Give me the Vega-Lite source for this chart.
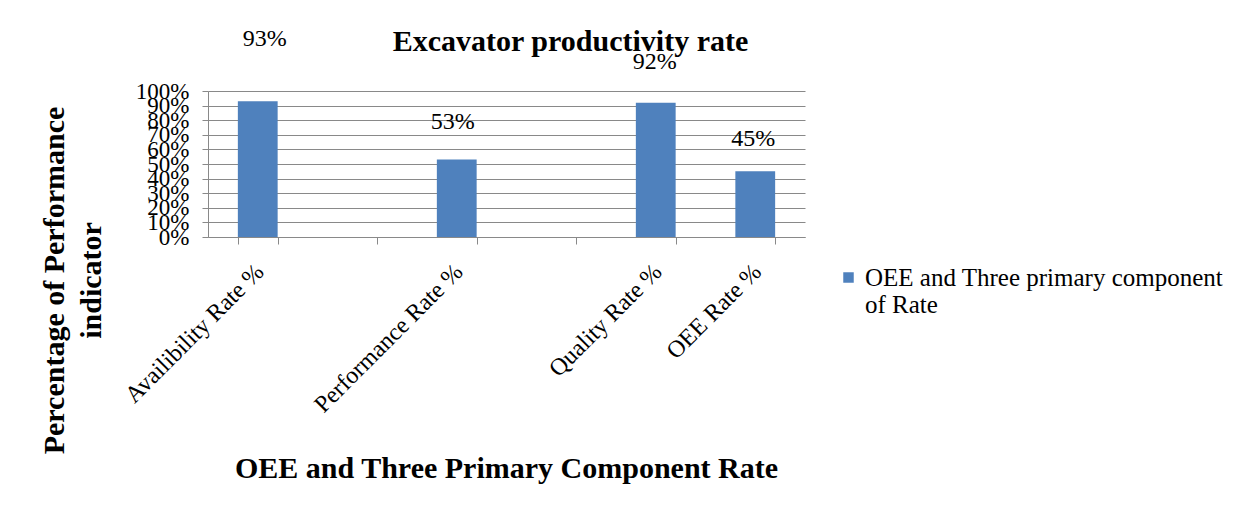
{
  "$schema": "https://vega.github.io/schema/vega-lite/v6.json",
  "autosize": {"type": "none"},
  "width": 597,
  "height": 146,
  "padding": {"left": 208, "top": 91, "right": 444, "bottom": 274},
  "background": "white",
  "title": {
    "text": "Excavator productivity rate",
    "font": "Liberation Serif",
    "fontSize": 30,
    "fontWeight": "bold",
    "color": "black",
    "anchor": "middle",
    "frame": "group",
    "dx": 64,
    "dy": 54,
    "baseline": "alphabetic",
    "offset": 0
  },
  "data": {
    "values": [
      {"category": "Availibility Rate %", "value": 0.93, "series": "OEE and Three primary component of Rate"},
      {"category": "Performance Rate %", "value": 0.53, "series": "OEE and Three primary component of Rate"},
      {"category": "Quality Rate %", "value": 0.92, "series": "OEE and Three primary component of Rate"},
      {"category": "OEE Rate %", "value": 0.45, "series": "OEE and Three primary component of Rate"}
    ]
  },
  "encoding": {
    "x": {
      "field": "category",
      "type": "nominal",
      "sort": null,
      "title": "OEE and Three Primary Component Rate",
      "scale": {
        "domain": ["Availibility Rate %", "", "Performance Rate %", " ", "Quality Rate %", "OEE Rate %"],
        "paddingInner": 0.6,
        "paddingOuter": 0.3
      },
      "axis": {
        "labelAngle": -45,
        "labelAlign": "right",
        "labelBaseline": "middle",
        "labelFont": "Liberation Serif",
        "labelFontSize": 24,
        "labelColor": "black",
        "labelPadding": 24,
        "labelOffset": 2,
        "labelLimit": 400,
        "tickBand": "extent",
        "tickSize": 7,
        "tickColor": "#898989",
        "domainColor": "#898989",
        "grid": false,
        "titleFont": "Liberation Serif",
        "titleFontSize": 30,
        "titleFontWeight": "bold",
        "titleColor": "black",
        "titleX": 298,
        "titleY": 240,
        "titleBaseline": "alphabetic",
        "titleAlign": "center"
      }
    },
    "y": {
      "field": "value",
      "type": "quantitative",
      "scale": {"domain": [0, 1]},
      "title": ["Percentage of  Performance", "indicator"],
      "axis": {
        "values": [0, 0.1, 0.2, 0.3, 0.4, 0.5, 0.6, 0.7, 0.8, 0.9, 1],
        "format": ".0%",
        "labelOverlap": false,
        "labelFont": "Liberation Serif",
        "labelFontSize": 23,
        "labelColor": "black",
        "labelPadding": 13,
        "labelFlush": false,
        "tickSize": 6,
        "tickColor": "#898989",
        "domainColor": "#898989",
        "grid": true,
        "gridColor": "#898989",
        "titleFont": "Liberation Serif",
        "titleFontSize": 30,
        "titleFontWeight": "bold",
        "titleColor": "black",
        "titleLineHeight": 37,
        "titleX": -154,
        "titleY": 189,
        "titleBaseline": "middle",
        "titleAlign": "center",
        "titleAngle": -90
      }
    }
  },
  "layer": [
    {
      "mark": {"type": "bar"},
      "encoding": {
        "color": {
          "field": "series",
          "type": "nominal",
          "scale": {"range": ["#4F81BD"]},
          "legend": {
            "title": null,
            "orient": "none",
            "legendX": 628,
            "legendY": 174,
            "symbolType": "square",
            "symbolSize": 110,
            "symbolStrokeWidth": 0,
            "labelOffset": 4,
            "labelFont": "Liberation Serif",
            "labelFontSize": 25,
            "labelColor": "black",
            "labelLimit": 500,
            "labelBaseline": "middle",
            "labelExpr": "['OEE and Three primary component', 'of Rate']"
          }
        }
      }
    },
    {
      "transform": [{"filter": "datum.category === 'Availibility Rate %'"}],
      "mark": {"type": "text", "font": "Liberation Serif", "fontSize": 24, "color": "black", "baseline": "middle", "dy": -62, "dx": 7},
      "encoding": {"text": {"field": "value", "type": "quantitative", "format": ".0%"}}
    },
    {
      "transform": [{"filter": "datum.category === 'Performance Rate %'"}],
      "mark": {"type": "text", "font": "Liberation Serif", "fontSize": 24, "color": "black", "baseline": "middle", "dy": -38, "dx": -4},
      "encoding": {"text": {"field": "value", "type": "quantitative", "format": ".0%"}}
    },
    {
      "transform": [{"filter": "datum.category === 'Quality Rate %'"}],
      "mark": {"type": "text", "font": "Liberation Serif", "fontSize": 24, "color": "black", "baseline": "middle", "dy": -41, "dx": -1},
      "encoding": {"text": {"field": "value", "type": "quantitative", "format": ".0%"}}
    },
    {
      "transform": [{"filter": "datum.category === 'OEE Rate %'"}],
      "mark": {"type": "text", "font": "Liberation Serif", "fontSize": 24, "color": "black", "baseline": "middle", "dy": -32, "dx": -2},
      "encoding": {"text": {"field": "value", "type": "quantitative", "format": ".0%"}}
    }
  ],
  "config": {"view": {"stroke": null}, "font": "Liberation Serif", "text": {"font": "Liberation Serif"}}
}
